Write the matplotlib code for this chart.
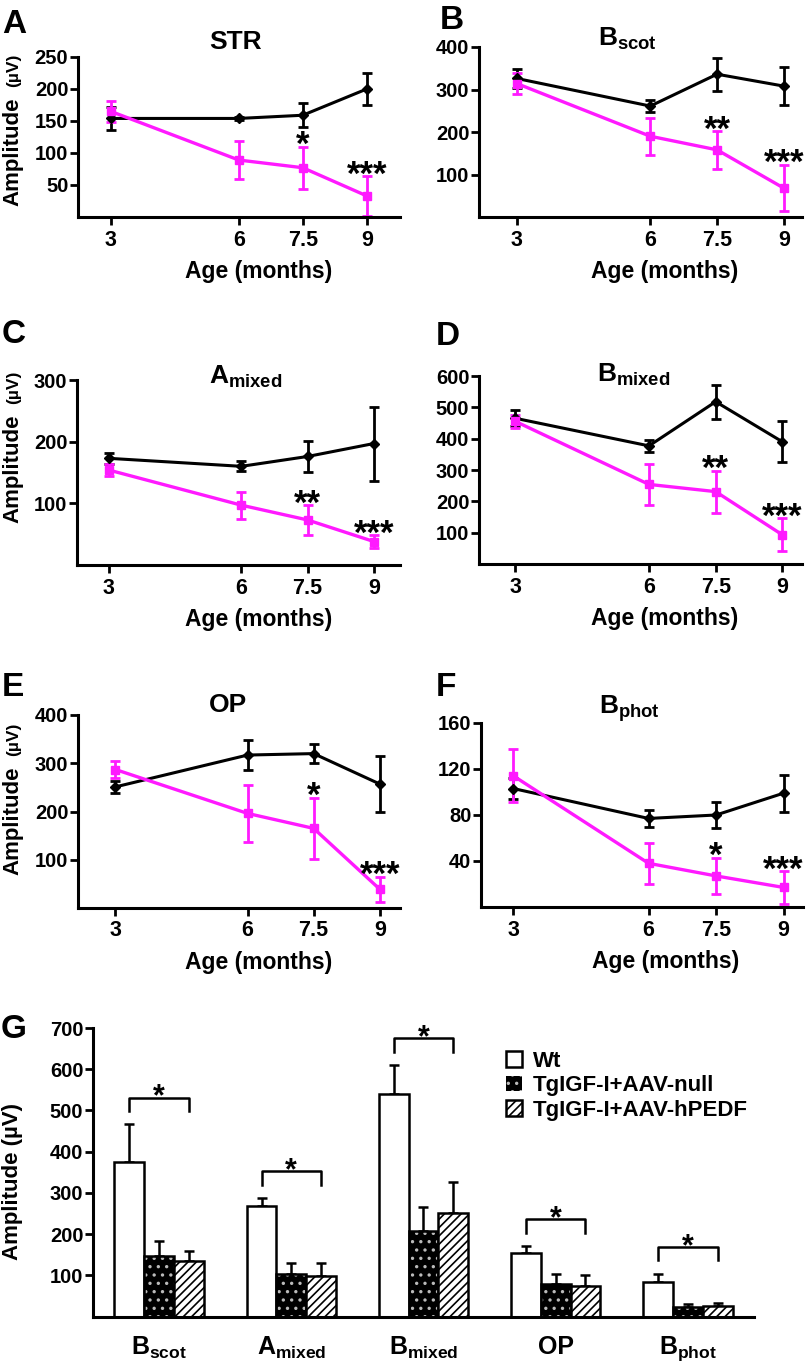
import numpy as np
import matplotlib
matplotlib.use('Agg')
import matplotlib.pyplot as plt
from matplotlib.patches import Patch

plt.rcParams['font.family'] = 'Liberation Sans'
plt.rcParams['font.weight'] = 'bold'
plt.rcParams['mathtext.fontset'] = 'custom'
plt.rcParams['mathtext.rm'] = 'Liberation Sans:bold'
plt.rcParams['mathtext.it'] = 'Liberation Sans:bold'
plt.rcParams['mathtext.bf'] = 'Liberation Sans:bold'
plt.rcParams['hatch.linewidth'] = 1.2

W, H = 812, 1364
MAGENTA = '#ff1aff'

# ---- data: panels A-F (mean +/- sem), black = Wt, magenta = TgIGF-I
ages = [3, 6, 7.5, 9]
age_labels = ['3', '6', '7.5', '9']

str_wt = [154, 154, 159, 200]
str_wt_err = [18, 3, 19, 25]
str_tg = [165, 89, 77, 33]
str_tg_err = [17, 29, 33, 31]
str_stars = ['', '', '*', '***']

bscot_wt = [326, 261, 336, 308]
bscot_wt_err = [22, 14, 39, 45]
bscot_tg = [314, 190, 158, 68]
bscot_tg_err = [24, 43, 44, 55]
bscot_stars = ['', '', '**', '***']

amix_wt = [173, 160, 176, 197]
amix_wt_err = [9, 8, 25, 60]
amix_tg = [154, 97, 73, 38]
amix_tg_err = [9, 22, 24, 10]
amix_stars = ['', '', '**', '***']

bmix_wt = [465, 377, 518, 390]
bmix_wt_err = [25, 18, 54, 65]
bmix_tg = [455, 254, 231, 93]
bmix_tg_err = [20, 65, 67, 53]
bmix_stars = ['', '', '**', '***']

op_wt = [251, 317, 320, 257]
op_wt_err = [12, 32, 20, 57]
op_tg = [287, 196, 165, 39]
op_tg_err = [17, 59, 63, 26]
op_stars = ['', '', '*', '***']

bphot_wt = [103, 77, 80, 99]
bphot_wt_err = [9, 7, 11, 16]
bphot_tg = [114, 38, 27, 17]
bphot_tg_err = [23, 18, 16, 14]
bphot_stars = ['', '', '*', '***']

# ---- data: panel G
groups = ['$B_{scot}$', '$A_{mixed}$', '$B_{mixed}$', 'OP', '$B_{phot}$']
series_names = ['Wt', 'TgIGF-I+AAV-null', 'TgIGF-I+AAV-hPEDF']
wt_bar = [374, 269, 541, 153, 84]
wt_bar_err = [92, 18, 69, 18, 20]
null_bar = [147, 102, 207, 78, 23]
null_bar_err = [36, 28, 58, 24, 8]
pedf_bar = [134, 98, 252, 73, 26]
pedf_bar_err = [25, 32, 75, 27, 7]

fig = plt.figure(figsize=(W / 100, H / 100), dpi=100)


def px_axes(l, t, r, b):
    return fig.add_axes([l / W, 1 - b / H, (r - l) / W, (b - t) / H])


def ftext(x, y, s, **kw):
    fig.text(x / W, 1 - y / H, s, **kw)


def style_axes(ax):
    for s in ['top', 'right']:
        ax.spines[s].set_visible(False)
    for s in ['left', 'bottom']:
        ax.spines[s].set_linewidth(2.2)
        ax.spines[s].set_capstyle('projecting')
    ax.tick_params(direction='out', length=6, width=2)


# (box l,t,r,b in px), xlim, ylim top, yticks, data, title, title pos, letter pos
panels = [
    ((78, 57, 400, 217), (2.23, 9.78), 250, [50, 100, 150, 200, 250],
     str_wt, str_wt_err, str_tg, str_tg_err, str_stars,
     'STR', (236, 49), 'A', (2, 33)),
    ((479, 47, 802, 217), (2.15, 9.41), 400, [100, 200, 300, 400],
     bscot_wt, bscot_wt_err, bscot_tg, bscot_tg_err, bscot_stars,
     '$B_{scot}$', (627, 46), 'B', (440, 29)),
    ((77, 380, 400, 565), (2.28, 9.59), 300, [100, 200, 300],
     amix_wt, amix_wt_err, amix_tg, amix_tg_err, amix_stars,
     '$A_{mixed}$', (246, 384), 'C', (2, 343)),
    ((479, 376, 802, 564), (2.18, 9.44), 600, [100, 200, 300, 400, 500, 600],
     bmix_wt, bmix_wt_err, bmix_tg, bmix_tg_err, bmix_stars,
     '$B_{mixed}$', (634, 382), 'D', (436, 345)),
    ((78, 715, 400, 908), (2.15, 9.46), 400, [100, 200, 300, 400],
     op_wt, op_wt_err, op_tg, op_tg_err, op_stars,
     'OP', (228, 712), 'E', (2, 696)),
    ((481, 723, 803, 907), (2.28, 9.43), 160, [40, 80, 120, 160],
     bphot_wt, bphot_wt_err, bphot_tg, bphot_tg_err, bphot_stars,
     '$B_{phot}$', (629, 714), 'F', (436, 696)),
]

star_fs = 25
for (box, xl, ytop, yt, wt, wt_e, tg, tg_e, stars,
     title, tpos, letter, lpos) in panels:
    ax = px_axes(*box)
    style_axes(ax)
    ax.errorbar(ages, wt, yerr=wt_e, color='black', lw=2.2, marker='D', ms=5,
                elinewidth=2, capsize=3.5, capthick=2, clip_on=False)
    ax.errorbar(ages, tg, yerr=tg_e, color=MAGENTA, lw=2.4, marker='s', ms=6,
                elinewidth=2, capsize=3.5, capthick=2, clip_on=False)
    for x, m, e, s in zip(ages, tg, tg_e, stars):
        if s:
            ax.annotate(s, (x, m + e), xytext=(0, 8.5 - 0.58 * star_fs),
                        textcoords='offset points', ha='center', va='baseline',
                        fontsize=star_fs, fontweight='bold')
    ax.set_xlim(*xl)
    ax.set_ylim(0, ytop)
    ax.set_xticks(ages, age_labels, fontsize=15.5)
    ax.set_yticks(yt, [str(v) for v in yt], fontsize=14.5)
    ax.tick_params(axis='y', pad=1)
    ax.tick_params(axis='x', pad=3)
    ftext(tpos[0], tpos[1], title, ha='center', va='baseline', fontsize=19)
    ftext(lpos[0], lpos[1], letter, ha='left', va='baseline', fontsize=24)
    xc = (box[0] + box[2]) / 2 + 20 if box[0] < 200 else (box[0] + box[2]) / 2 + 24
    ftext(xc, box[3] + 61, 'Age (months)', ha='center', va='baseline', fontsize=16.5)

# y labels for left column
for amp_y, uv_y in [(152, 70), (469, 387), (821, 739)]:
    ftext(13, amp_y, 'Amplitude', rotation=90, ha='center', va='center', fontsize=16)
    ftext(14, uv_y, '(µV)', rotation=90, ha='center', va='center', fontsize=12.5)

# ---- panel G
ax = px_axes(93, 1028, 754, 1316.5)
style_axes(ax)
x = np.arange(len(groups))
w = 0.225
ax.bar(x - w, wt_bar, w, color='white', edgecolor='black', lw=1.8, zorder=2)
ax.bar(x, null_bar, w, color='black', edgecolor='#bbbbbb', hatch='..', lw=0, zorder=2)
ax.bar(x, null_bar, w, fill=False, edgecolor='black', lw=1.8, zorder=2)
ax.bar(x + w, pedf_bar, w, color='white', edgecolor='black', hatch='////', lw=1.8, zorder=2)
zeros = np.zeros(len(groups))
for xs, vals, errs in [(x - w, wt_bar, wt_bar_err), (x, null_bar, null_bar_err),
                       (x + w, pedf_bar, pedf_bar_err)]:
    ax.errorbar(xs, vals, yerr=[zeros, errs], fmt='none', ecolor='black',
                elinewidth=1.8, capsize=3.5, capthick=1.8, zorder=1)

for i in range(len(groups)):
    top = max(wt_bar[i] + wt_bar_err[i], null_bar[i] + null_bar_err[i],
              pedf_bar[i] + pedf_bar_err[i])
    level = top + 65
    ax.plot([x[i] - w, x[i] - w, x[i] + w, x[i] + w],
            [level - 33, level, level, level - 33], color='black', lw=1.8)
    ax.annotate('*', (x[i], level), xytext=(0, 7 - 0.58 * 22),
                textcoords='offset points', ha='center', va='baseline',
                fontsize=22, fontweight='bold')

ax.set_xlim(-0.5, 4.5)
ax.set_ylim(0, 700)
ax.set_yticks(range(100, 701, 100), [str(v) for v in range(100, 701, 100)], fontsize=14.5)
ax.tick_params(axis='y', pad=1)
ax.set_xticks(x, groups, fontsize=18)
ax.tick_params(axis='x', length=0, pad=13)

handles = [Patch(facecolor='white', edgecolor='black', lw=1.8),
           Patch(facecolor='black', edgecolor='#bbbbbb', hatch='..', lw=0),
           Patch(facecolor='white', edgecolor='black', hatch='////', lw=1.8)]
ax.legend(handles, series_names, loc='upper left',
          bbox_to_anchor=(506 / W, 1 - 1051 / H), bbox_transform=fig.transFigure,
          frameon=False, fontsize=16, handlelength=0.7, handleheight=0.7,
          handletextpad=0.5, labelspacing=0.15, borderpad=0, borderaxespad=0)

ftext(1, 1038, 'G', ha='left', va='baseline', fontsize=24)
ftext(13, 1181, 'Amplitude (µV)', rotation=90, ha='center', va='center', fontsize=16)

fig.savefig('out.png', dpi=100)
